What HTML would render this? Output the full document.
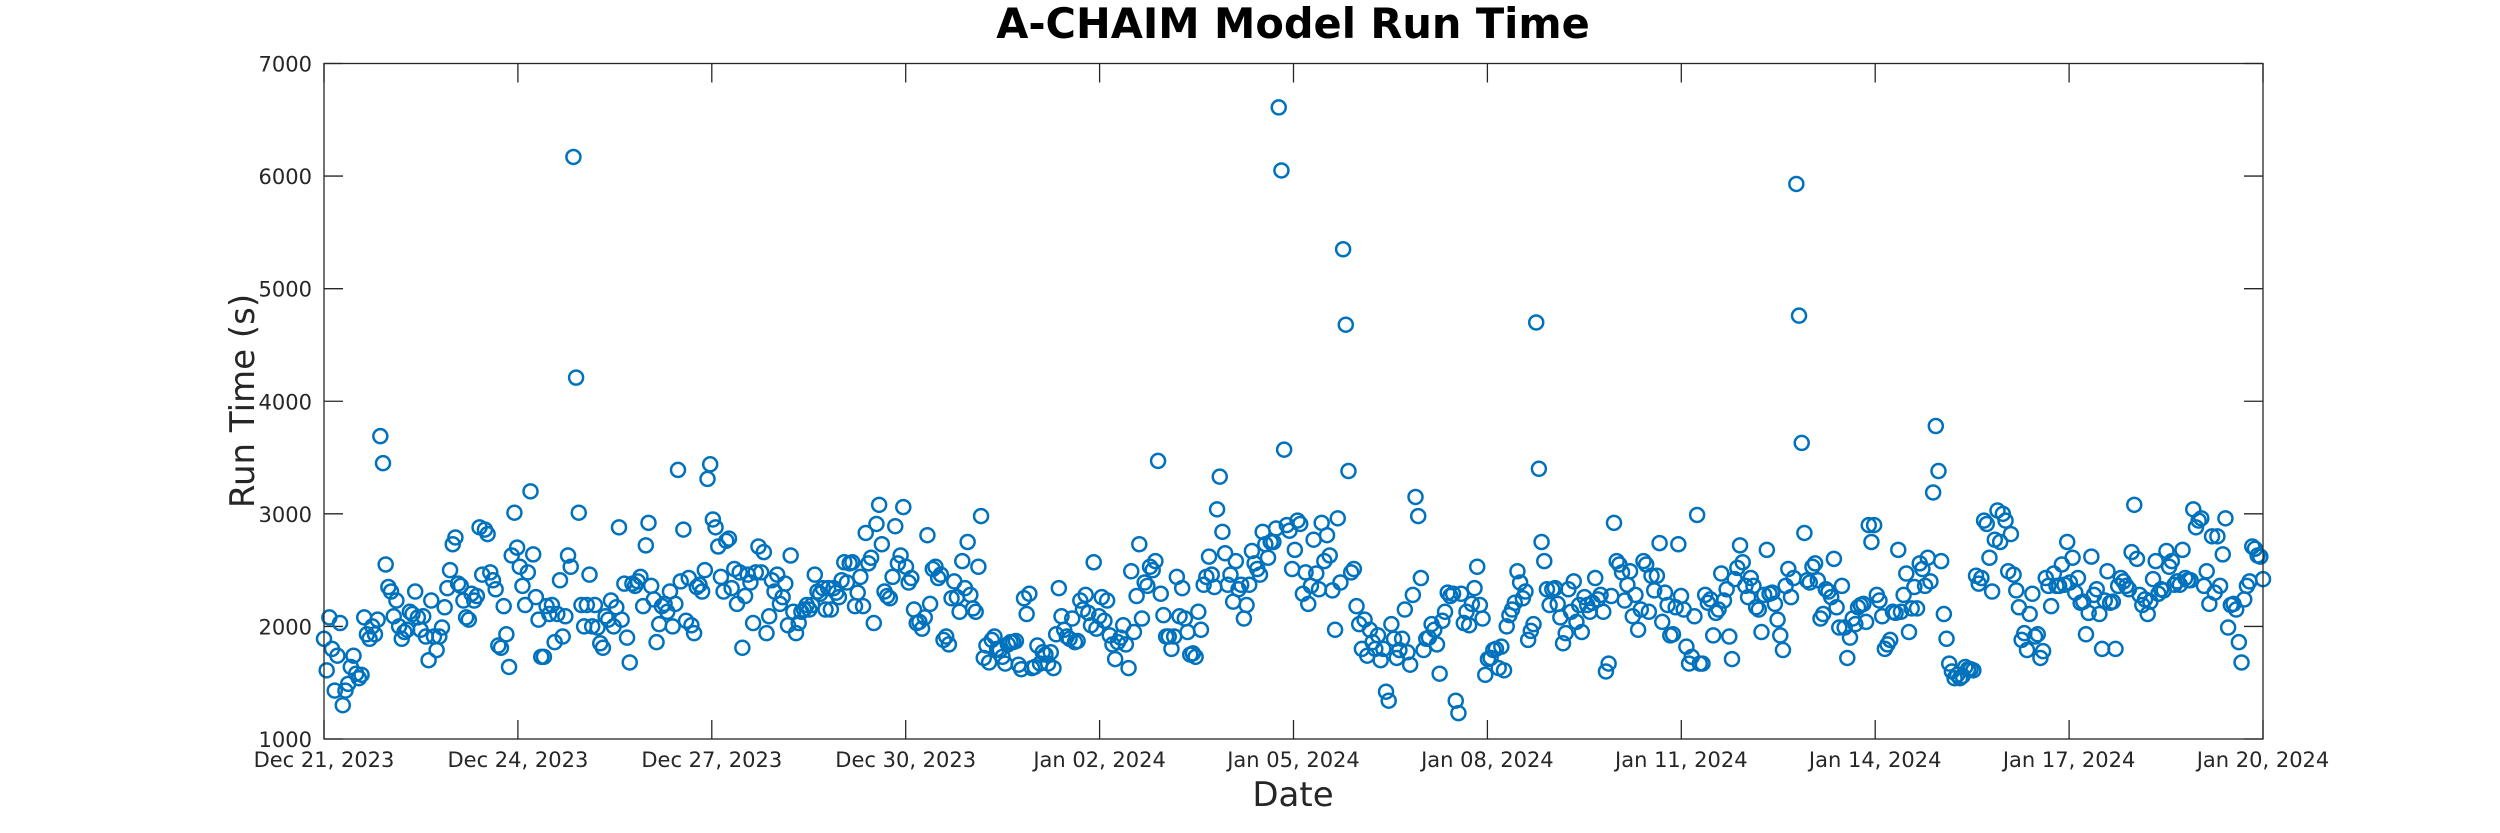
<!DOCTYPE html>
<html><head><meta charset="utf-8"><style>
html,body{margin:0;padding:0;background:#fff;}
svg{display:block;font-family:"DejaVu Sans","Liberation Sans",sans-serif;}
</style></head><body>
<svg id="chart" width="2500" height="833" viewBox="0 0 2500 833" xmlns="http://www.w3.org/2000/svg">
<text x="1293" y="38" text-anchor="middle" font-size="41.5" font-weight="bold" fill="#000">A-CHAIM Model Run Time</text>
<text transform="translate(254,401) rotate(-90)" text-anchor="middle" font-size="34" fill="#262626">Run Time (s)</text>
<text x="1293" y="806" text-anchor="middle" font-size="34" fill="#262626">Date</text>
<g id="ticks"></g>
<g id="marks"></g>
<rect x="324" y="63.5" width="1939" height="675.5" fill="none" stroke="#262626" stroke-width="1.3"/>
</svg>
<script>
const yTicks = [1000,2000,3000,4000,5000,6000,7000];
const xTickLabels = ["Dec 21, 2023","Dec 24, 2023","Dec 27, 2023","Dec 30, 2023","Jan 02, 2024","Jan 05, 2024","Jan 08, 2024","Jan 11, 2024","Jan 14, 2024","Jan 17, 2024","Jan 20, 2024"];
const xTickDays = [0,3,6,9,12,15,18,21,24,27,30];
const runTimes = [
1890,1610,2080,1800,1430,1740,2030,1300,1430,1490,1640,1740,1580,1540,1570,2080,1930,1890,2000,1930,2060,3690,3450,2550,
2350,2310,2090,2230,2000,1890,1950,1970,2130,2110,2310,2080,1970,2090,1910,1700,2230,1910,1790,1910,1990,2170,2340,2500,
2730,2790,2380,2360,2230,2080,2060,2290,2230,2270,2880,2460,2860,2820,2480,2410,2330,1830,1810,2180,1930,1640,2630,3010,
2700,2530,2360,2190,2480,3200,2640,2260,2060,1730,1730,2180,2110,2190,1860,2110,2410,1910,2090,2630,2530,6170,4210,3010,
2190,2000,2190,2460,2000,2190,1990,1850,1810,2090,2060,2230,2000,2170,2880,2060,2380,1900,1680,2380,2360,2400,2440,2180,
2720,2920,2360,2240,1860,2020,2180,2200,2130,2310,2000,2200,3390,2400,2860,2050,2430,2010,1940,2350,2370,2310,2500,3310,
3440,2950,2880,2710,2440,2310,2760,2780,2340,2510,2200,2480,1810,2270,2460,2390,2030,2480,2710,2480,2660,1940,2090,2410,
2310,2460,2200,2260,2380,2010,2630,2130,1940,2030,2130,2150,2190,2150,2190,2460,2310,2290,2340,2150,2340,2150,2340,2300,
2260,2410,2570,2390,2560,2570,2180,2300,2440,2180,2830,2560,2610,2030,2910,3080,2730,2310,2270,2250,2440,2890,2560,2630,
3060,2530,2390,2430,2150,2030,2040,1980,2080,2810,2200,2510,2530,2430,2460,1880,1910,1840,2250,2400,2260,2130,2580,2340,
2750,2280,2160,2130,2530,2980,1720,1830,1680,1880,1910,1800,1790,1730,1670,1840,1860,1860,1870,1660,1620,2250,2110,2290,
1630,1640,1830,1670,1770,1750,1670,1770,1630,1930,2340,2090,1970,1910,1890,2070,1860,1870,2230,2150,2280,2120,2010,2570,
1980,2090,2260,2050,2230,1920,1840,1710,1860,1900,2010,1840,1630,2490,1950,2270,2730,2070,2390,2360,2530,2500,2580,3470,
2290,2100,1910,1910,1800,1910,2440,2090,2340,2070,1950,1750,1760,1730,2130,1970,2370,2440,2620,2460,2350,3040,3330,2840,
2650,2370,2460,2220,2580,2330,2370,2070,2190,2370,2670,2560,2510,2460,2840,2730,2610,2750,2750,2870,6610,6050,3570,2900,
2850,2510,2680,2940,2910,2290,2480,2200,2360,2770,2470,2330,2920,2580,2810,2630,2320,1970,2960,2390,5350,4680,3380,2480,
2510,2180,2020,1800,2060,1740,1970,1860,1800,1920,1700,1800,1420,1340,2020,1890,1720,1790,1890,2150,1770,1660,2280,3150,
2980,2430,1790,1890,1900,2020,1970,1840,1580,2050,2130,2300,2270,2290,1340,1230,2290,2030,2130,2010,2200,2340,2530,2190,
2070,1570,1710,1720,1790,1800,1630,1820,1610,2000,2100,2150,2210,2490,2390,2250,2310,1880,1960,2020,4700,3400,2750,2580,
2330,2190,2330,2340,2200,2080,1850,1940,2330,2130,2400,2040,2190,1950,2260,2190,2130,2210,2430,2240,2280,2130,1600,1670,
2270,2920,2580,2550,2480,2230,2370,2490,2090,2280,1970,2150,2580,2550,2130,2450,2320,2450,2740,2040,2300,2190,1920,1930,
2170,2730,2270,2150,1820,1670,1730,2090,2990,1670,1670,2280,2210,2240,1920,2120,2150,2470,2230,2330,1910,1710,2420,2520,
2720,2570,2360,2260,2430,2360,2170,2150,1950,2280,2680,2290,2300,2200,2060,1920,1790,2360,2510,2260,2430,5930,4760,3630,
2830,2410,2390,2530,2560,2410,2070,2110,2330,2310,2260,2600,2170,1990,2360,1990,1720,1900,2070,2020,2170,2190,2200,2040,
2900,2750,2900,2280,2230,2090,1800,1840,1880,2130,2120,2680,2130,2280,2470,1950,2160,2350,2160,2560,2510,2360,2610,2400,
3190,3780,3380,2580,2110,1890,1670,1600,1540,1570,1540,1560,1640,1620,1620,1610,2450,2380,2430,2940,2910,2610,2310,2770,
3030,2750,3000,2940,2490,2820,2460,2320,2170,1880,1940,1790,2110,2290,1910,1930,1720,1780,2430,2360,2180,2470,2360,2360,
2550,2370,2750,2390,2610,2300,2430,2210,2220,1930,2120,2620,2280,2330,2110,1800,2230,2490,2210,2220,1800,2360,2430,2400,
2360,2330,2660,3080,2600,2280,2190,2240,2110,2220,2420,2580,2290,2330,2320,2670,2530,2580,2370,2400,2370,2680,2430,2410,
2410,3040,2880,2940,2960,2360,2490,2200,2800,2300,2800,2360,2640,2960,1990,2190,2200,2150,1860,1680,2240,2360,2400,2710,
2690,2630,2620,2420
];

const NS = "http://www.w3.org/2000/svg";
const X0 = 324, X1 = 2263, Y0 = 739, Y1 = 63.5;
const yMin = 1000, yMax = 7000, totalDays = 30;
function xScale(day){ return X0 + (day/totalDays)*(X1-X0); }
function yScale(v){ return Y0 - (v-yMin)/(yMax-yMin)*(Y0-Y1); }

const ticks = document.getElementById('ticks');
function line(x1,y1,x2,y2){
  const l = document.createElementNS(NS,'line');
  l.setAttribute('x1',x1); l.setAttribute('y1',y1); l.setAttribute('x2',x2); l.setAttribute('y2',y2);
  l.setAttribute('stroke','#262626'); l.setAttribute('stroke-width','1.3');
  
  
  ticks.appendChild(l);
}
yTicks.forEach(v=>{
  const y = yScale(v);
  line(X0,y,X0+19,y); line(X1,y,X1-19,y);
  const t = document.createElementNS(NS,'text');
  t.setAttribute('x',X0-12); t.setAttribute('y',y+8);
  t.setAttribute('text-anchor','end'); t.setAttribute('font-size','21'); t.setAttribute('fill','#262626');
  
  
  t.textContent = v;
  ticks.appendChild(t);
});
xTickDays.forEach((d,i)=>{
  const x = xScale(d);
  line(x,Y0,x,Y0-19); line(x,Y1,x,Y1+19);
  const t = document.createElementNS(NS,'text');
  t.setAttribute('x',x); t.setAttribute('y',Y0+28);
  t.setAttribute('text-anchor','middle'); t.setAttribute('font-size','21'); t.setAttribute('fill','#262626');
  
  
  t.textContent = xTickLabels[i];
  ticks.appendChild(t);
});

const marks = document.getElementById('marks');
const n = runTimes.length;
runTimes.forEach((v,i)=>{
  const day = i*totalDays/(n-1);
  const c = document.createElementNS(NS,'circle');
  c.setAttribute('cx',xScale(day)); c.setAttribute('cy',yScale(v));
  c.setAttribute('r','7');
  c.setAttribute('fill','none'); c.setAttribute('stroke','#0072BD'); c.setAttribute('stroke-width','2.5');
  
  
  marks.appendChild(c);
});
</script>
</body></html>
